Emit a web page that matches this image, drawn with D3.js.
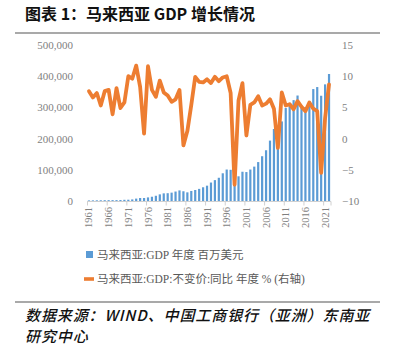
<!DOCTYPE html>
<html><head><meta charset="utf-8">
<script src="https://cdn.jsdelivr.net/npm/d3@7"></script>
<style>
body{margin:0;background:#fff;}
svg{display:block;}
</style></head>
<body>
<svg id="c" width="393" height="347"></svg>
<script>
const years = d3.range(1961, 2023);
const gdp = [1900,2000,2170,2350,2600,2760,2800,2860,3090,3860,4120,5080,7660,9600,9640,11520,13650,16770,21290,24490,
25000,26810,30350,33940,31200,27730,32180,35270,38850,44020,49140,59170,66890,74480,88830,100850,100010,72170,79150,93790,
92780,100850,110200,124750,143530,162690,193550,230810,202260,255020,297950,314440,323280,338070,301350,301260,319110,358790,365180,337340,
373830,407030];
const growth = [7.6,6.6,7.3,5.3,7.6,7.8,3.9,8.1,4.9,5.8,10.0,9.6,11.7,8.3,0.8,11.6,7.8,6.7,9.3,7.4,
6.9,5.9,6.3,7.8,-1.1,1.2,5.4,9.9,9.1,9.0,9.5,8.9,9.9,9.2,9.8,10.0,7.3,-7.4,6.1,8.9,
0.5,5.4,5.8,6.8,5.3,5.6,6.3,4.8,-1.5,7.4,5.3,5.5,4.7,6.0,5.1,4.4,5.8,4.8,4.4,-5.5,
3.3,8.7];
const leftTicks = [0,100000,200000,300000,400000,500000];
const rightTicks = [-10,-5,0,5,10,15];
const labelYears = d3.range(1961, 2023, 5);
const legendLabels = ["马来西亚:GDP 年度 百万美元","马来西亚:GDP:不变价:同比 年度 % (右轴)"];
const title = "图表 1：马来西亚 GDP 增长情况";
const source1 = "数据来源：WIND、中国工商银行（亚洲）东南亚";
const source2 = "研究中心";

const svg = d3.select("#c");
const serif = "'Liberation Serif','Noto Sans CJK SC',serif";
const cjk = "'Noto Sans CJK SC',sans-serif";
const blue = "#5B9BD5", orange = "#ED7D31", gray = "#7f7f7f";

// title
svg.append("text").attr("x",25).attr("y",19.5).attr("font-family",cjk).attr("font-weight",700)
  .attr("font-size",16).attr("fill","#111").text(title);
svg.append("line").attr("x1",15).attr("x2",380).attr("y1",33).attr("y2",33).attr("stroke","#8c8c8c").attr("stroke-width",1.5);

const xc = d3.scaleBand().domain(years).range([87,331]);
const yL = d3.scaleLinear().domain([0,500000]).range([201,45]);
const yR = d3.scaleLinear().domain([-10,15]).range([201,45]);

// bars
svg.append("g").selectAll("rect").data(years).join("rect")
  .attr("x",(d)=>xc(d)+xc.bandwidth()*0.22)
  .attr("width",xc.bandwidth()*0.56)
  .attr("y",(d,i)=>yL(gdp[i]))
  .attr("height",(d,i)=>yL(0)-yL(gdp[i]))
  .attr("fill",blue);

// x axis
svg.append("line").attr("x1",87).attr("x2",331).attr("y1",201.5).attr("y2",201.5).attr("stroke","#d0d0d0");
svg.append("g").selectAll("line").data(labelYears).join("line")
  .attr("x1",d=>xc(d)+0.5).attr("x2",d=>xc(d)+0.5).attr("y1",201.5).attr("y2",205.5).attr("stroke","#d0d0d0");
svg.append("line").attr("x1",331).attr("x2",331).attr("y1",201.5).attr("y2",205.5).attr("stroke","#d0d0d0");
svg.append("g").selectAll("text").data(labelYears).join("text")
  .attr("transform",d=>`translate(${xc(d)+xc.bandwidth()/2+3.5},207) rotate(-90)`)
  .attr("text-anchor","end").attr("font-family",serif).attr("font-size",10.5).attr("fill",gray)
  .text(d=>d);

// left axis
const gl = svg.append("g").attr("transform","translate(80,0)")
  .call(d3.axisLeft(yL).tickValues(leftTicks).tickSize(0).tickPadding(7).tickFormat(d3.format(",")));
gl.select(".domain").remove();
gl.selectAll("text").attr("font-family",serif).attr("font-size",11).attr("fill",gray);

// right axis
const gr = svg.append("g").attr("transform","translate(336,0)")
  .call(d3.axisRight(yR).tickValues(rightTicks).tickSize(0).tickPadding(6));
gr.select(".domain").remove();
gr.selectAll("text").attr("font-family",serif).attr("font-size",11).attr("fill",gray);

// line
const line = d3.line().x((d,i)=>xc(years[i])+xc.bandwidth()/2).y(d=>yR(d));
svg.append("path").datum(growth).attr("d",line).attr("fill","none").attr("stroke",orange)
  .attr("stroke-width",3.8).attr("stroke-linejoin","round").attr("stroke-linecap","round");

// legend
svg.append("rect").attr("x",86).attr("y",251).attr("width",7).attr("height",7).attr("fill",blue);
svg.append("line").attr("x1",84).attr("x2",94).attr("y1",279).attr("y2",279).attr("stroke",orange).attr("stroke-width",3.6);
svg.selectAll(".lg").data(legendLabels).join("text").attr("class","lg")
  .attr("x",97).attr("y",(d,i)=>259+i*24)
  .attr("font-family",serif).attr("font-size",11.5).attr("fill","#595959").text(d=>d);

// source
svg.append("line").attr("x1",15).attr("x2",380).attr("y1",302).attr("y2",302).attr("stroke","#8c8c8c").attr("stroke-width",1.5);
svg.append("text").attr("x",25).attr("y",321).attr("font-family",cjk).attr("font-style","italic")
  .attr("font-size",15).attr("letter-spacing",0.9).attr("font-weight",500).attr("fill","#111").text(source1);
svg.append("text").attr("x",25).attr("y",342).attr("font-family",cjk).attr("font-style","italic")
  .attr("font-size",15).attr("letter-spacing",0.9).attr("font-weight",500).attr("fill","#111").text(source2);
</script>
</body></html>
